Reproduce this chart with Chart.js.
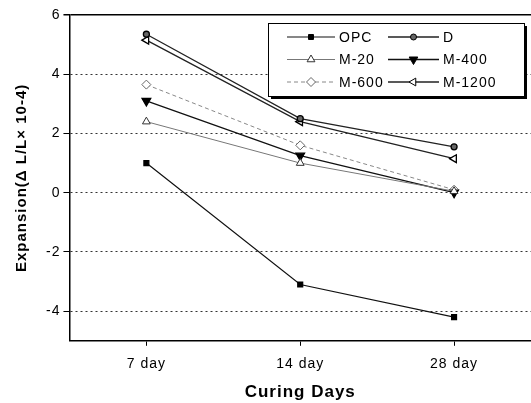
<!DOCTYPE html>
<html>
<head>
<meta charset="utf-8">
<script src="https://cdn.jsdelivr.net/npm/chart.js@4.4.1/dist/chart.umd.min.js"></script>
<style>
  body { margin: 0; background: #fff; }
  #wrap { width: 531px; height: 403px; }
</style>
</head>
<body>
<div id="wrap"><canvas id="expansion-chart" width="531" height="403"></canvas></div>
<script>
// data
const curingDays = ["7 day", "14 day", "28 day"];
const opc = [1.0, -3.1, -4.2];
const d = [5.35, 2.5, 1.55];
const m20 = [2.4, 1.0, 0.05];
const m400 = [3.1, 1.25, 0.0];
const m600 = [3.65, 1.6, 0.1];
const m1200 = [5.15, 2.4, 1.15];
const yTicks = [-5, -4, -2, 0, 2, 4, 6];

const FONT = "'Liberation Sans', Arial, sans-serif";

// the original text is a bit spaced out
const spacedText = {
    id: "spacedText",
    beforeLayout(chart) { chart.ctx.letterSpacing = "1px"; },
    beforeDraw(chart) { chart.ctx.letterSpacing = "1px"; }
};

// legend drawn inside the plot like the original (box with shadow)
const boxLegend = {
    id: "boxLegend",
    afterDraw(chart) {
        const ctx = chart.ctx;
        const x0 = 268, y0 = 23, w = 256, h = 73;
        ctx.save();
        ctx.fillStyle = "#000";
        ctx.fillRect(x0 + 3, y0 + 3, w, h);
        ctx.fillStyle = "#fff";
        ctx.fillRect(x0, y0, w, h);
        ctx.strokeStyle = "#000";
        ctx.lineWidth = 1;
        ctx.strokeRect(x0 + 0.5, y0 + 0.5, w, h);

        ctx.font = "14px " + FONT;
        ctx.letterSpacing = "1px";
        ctx.textBaseline = "middle";
        chart.data.datasets.forEach((ds, i) => {
            const col = i % 2;
            const row = Math.floor(i / 2);
            const lx = col === 0 ? 287 : 388;
            const ly = 37 + row * 22.5;
            const lw = col === 0 ? 48 : 51;
            ctx.strokeStyle = ds.borderColor;
            ctx.lineWidth = ds.borderWidth;
            ctx.setLineDash(ds.borderDash || []);
            ctx.beginPath();
            ctx.moveTo(lx, ly);
            ctx.lineTo(lx + lw, ly);
            ctx.stroke();
            ctx.setLineDash([]);
            ctx.fillStyle = ds.pointBackgroundColor;
            ctx.strokeStyle = ds.pointBorderColor;
            ctx.lineWidth = 1;
            Chart.helpers.drawPoint(ctx, {
                pointStyle: ds.pointStyle,
                rotation: ds.pointRotation || 0,
                radius: ds.pointRadius,
                borderWidth: 1
            }, lx + lw / 2, ly);
            ctx.fillStyle = "#000";
            ctx.fillText(ds.label, lx + lw + 4, ly + 1);
        });
        ctx.restore();
    }
};

const ctx = document.getElementById("expansion-chart").getContext("2d");
new Chart(ctx, {
    type: "line",
    data: {
        labels: curingDays,
        datasets: [
            { label: "OPC", data: opc, borderColor: "#111", borderWidth: 1.2, pointStyle: "rect", pointRadius: 3.5, pointBackgroundColor: "#000", pointBorderColor: "#000" },
            { label: "D", data: d, borderColor: "#222", borderWidth: 1.3, pointStyle: "circle", pointRadius: 3, pointBackgroundColor: "#666", pointBorderColor: "#000" },
            { label: "M-20", data: m20, borderColor: "#777", borderWidth: 1, pointStyle: "triangle", pointRadius: 4.5, pointBackgroundColor: "#fff", pointBorderColor: "#333" },
            { label: "M-400", data: m400, borderColor: "#111", borderWidth: 1.3, pointStyle: "triangle", pointRotation: 180, pointRadius: 5, pointBackgroundColor: "#000", pointBorderColor: "#000" },
            { label: "M-600", data: m600, borderColor: "#888", borderWidth: 1, borderDash: [4, 3], pointStyle: "rectRot", pointRadius: 4.5, pointBackgroundColor: "#fff", pointBorderColor: "#666" },
            { label: "M-1200", data: m1200, borderColor: "#222", borderWidth: 1.3, pointStyle: "triangle", pointRotation: 270, pointRadius: 4.5, pointBackgroundColor: "#fff", pointBorderColor: "#000" }
        ]
    },
    options: {
        responsive: false,
        animation: false,
        layout: { autoPadding: false, padding: { top: 15, right: 0, left: 13, bottom: 0 } },
        plugins: {
            legend: { display: false },
            tooltip: { enabled: false }
        },
        elements: { line: { tension: 0, fill: false }, point: { borderWidth: 1 } },
        scales: {
            x: {
                offset: true,
                grid: { display: true, drawOnChartArea: false, offset: false, tickLength: 5, color: "#000" },
                border: { color: "#000", width: 1.5 },
                ticks: { color: "#000", font: { family: FONT, size: 14 }, padding: 10 },
                title: { display: true, text: "Curing Days", color: "#000", font: { family: FONT, size: 17, weight: "bold" }, padding: { top: 0, bottom: 0 } }
            },
            y: {
                min: -5,
                max: 6,
                afterBuildTicks: (axis) => { axis.ticks = yTicks.map((v) => ({ value: v })); },
                grid: {
                    tickLength: 6,
                    color: (c) => c.tick && c.tick.value === 6 ? "#000" : (c.tick && c.tick.value === -5 ? "rgba(0,0,0,0)" : "#333"),
                    tickColor: (c) => c.tick && c.tick.value === -5 ? "rgba(0,0,0,0)" : "#000",
                    lineWidth: (c) => c.tick && c.tick.value === 6 ? 1.5 : 1
                },
                border: { color: "#000", width: 1.5, dash: (c) => c.tick && c.tick.value === 6 ? [] : [2, 3] },
                ticks: {
                    color: "#000",
                    font: { family: FONT, size: 14 },
                    padding: 3,
                    callback: (v) => v === -5 ? "" : v
                },
                title: { display: true, text: "Expansion(Δ L/L× 10-4)", color: "#000", font: { family: FONT, size: 15, weight: "bold" }, padding: { top: 0, bottom: 12 } }
            }
        }
    },
    plugins: [spacedText, boxLegend]
});
</script>
</body>
</html>
